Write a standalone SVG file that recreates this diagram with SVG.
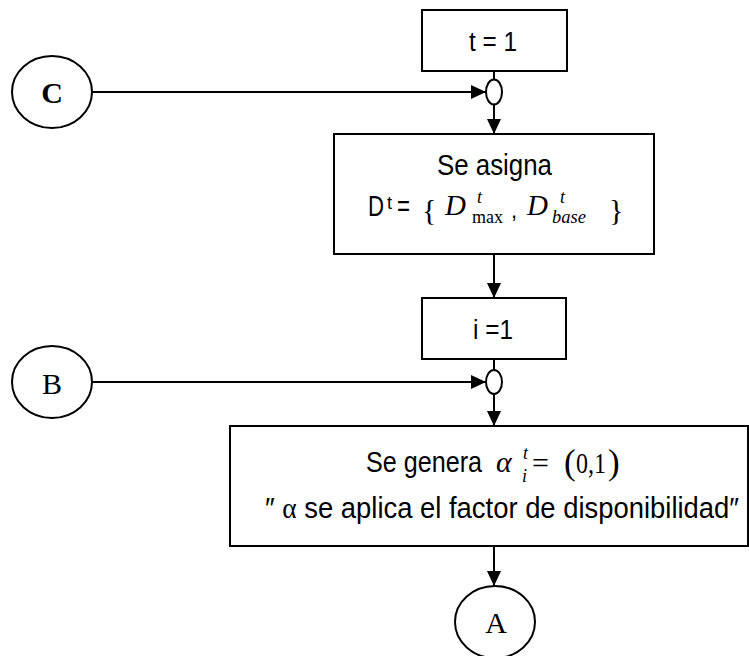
<svg xmlns="http://www.w3.org/2000/svg" width="749" height="656" viewBox="0 0 749 656">
<style>
.shape{fill:#fff;stroke:#000;stroke-width:2}
.edge{fill:none;stroke:#000;stroke-width:2}
.sans{font-family:"Liberation Sans",Arial,sans-serif;fill:#000}
.serif{font-family:"Liberation Serif","Times New Roman",serif;fill:#000}
.it{font-style:italic}
</style>
<defs>
<marker id="arr" markerUnits="userSpaceOnUse" markerWidth="16" markerHeight="14" refX="15" refY="7" orient="auto">
<path d="M0,0 L15,7 L0,14 z" fill="#000"/>
</marker>
</defs>
<g id="connectors">
<line class="edge" x1="92" y1="92" x2="486" y2="92" marker-end="url(#arr)"/>
<line class="edge" x1="494" y1="71" x2="494" y2="80"/>
<line class="edge" x1="494" y1="105" x2="494" y2="134" marker-end="url(#arr)"/>
<line class="edge" x1="494" y1="254" x2="494" y2="298" marker-end="url(#arr)"/>
<line class="edge" x1="494" y1="359" x2="494" y2="370"/>
<line class="edge" x1="93" y1="382" x2="486" y2="382" marker-end="url(#arr)"/>
<line class="edge" x1="494" y1="394" x2="494" y2="426" marker-end="url(#arr)"/>
<line class="edge" x1="494" y1="546" x2="494" y2="586" marker-end="url(#arr)"/>
</g>
<g id="nodeC">
<ellipse class="shape" cx="52" cy="92" rx="40" ry="36"/>
<text class="serif" x="52" y="103" font-size="30" font-weight="bold" text-anchor="middle">C</text>
</g>
<g id="nodeT1">
<rect class="shape" x="422" y="10" width="145" height="61"/>
<text class="sans" x="469" y="51" font-size="27" textLength="48" lengthAdjust="spacingAndGlyphs">t = 1</text>
</g>
<g id="junction1">
<ellipse class="shape" cx="494" cy="92" rx="8" ry="12.5"/>
</g>
<g id="nodeAssign">
<rect class="shape" x="334" y="134" width="320" height="120"/>
<text class="sans" x="437" y="175" font-size="29" textLength="115" lengthAdjust="spacingAndGlyphs">Se asigna</text>
<text class="sans" x="368" y="216" font-size="29" textLength="16" lengthAdjust="spacingAndGlyphs">D</text>
<text class="sans" x="387" y="209" font-size="18" textLength="5" lengthAdjust="spacingAndGlyphs">t</text>
<text class="sans" x="397" y="216" font-size="29" textLength="13" lengthAdjust="spacingAndGlyphs">=</text>
<text class="serif" x="422" y="220" font-size="30">{</text>
<text class="serif it" x="445" y="215" font-size="29">D</text>
<text class="serif it" x="477" y="203" font-size="18">t</text>
<text class="serif" x="472" y="223" font-size="18" textLength="31" lengthAdjust="spacingAndGlyphs">max</text>
<text class="sans" x="511" y="218" font-size="22">,</text>
<text class="serif it" x="527" y="215" font-size="29">D</text>
<text class="serif it" x="560" y="203" font-size="18">t</text>
<text class="serif it" x="552" y="223" font-size="18" textLength="34" lengthAdjust="spacingAndGlyphs">base</text>
<text class="serif" x="609" y="220" font-size="30">}</text>
</g>
<g id="nodeI1">
<rect class="shape" x="422" y="298" width="144" height="61"/>
<text class="sans" x="473" y="339" font-size="27" textLength="40" lengthAdjust="spacingAndGlyphs">i =1</text>
</g>
<g id="junction2">
<ellipse class="shape" cx="494" cy="382" rx="8" ry="12"/>
</g>
<g id="nodeB">
<ellipse class="shape" cx="52" cy="382" rx="40" ry="36"/>
<text class="serif" x="52" y="394" font-size="30" text-anchor="middle">B</text>
</g>
<g id="nodeGen">
<rect class="shape" x="230" y="426" width="518" height="120"/>
<text class="sans" x="366" y="472" font-size="29" textLength="116" lengthAdjust="spacingAndGlyphs">Se genera</text>
<text class="serif it" x="496" y="472" font-size="30">α</text>
<text class="serif it" x="523" y="459" font-size="18">t</text>
<text class="serif it" x="522" y="482" font-size="18">i</text>
<text class="serif" x="532" y="473" font-size="30">=</text>
<text class="serif" x="564" y="474" font-size="35">(</text>
<text class="serif" x="576" y="473" font-size="29" textLength="30" lengthAdjust="spacingAndGlyphs">0,1</text>
<text class="serif" x="608" y="474" font-size="35">)</text>
<text class="sans" x="265" y="518" font-size="29" textLength="474" lengthAdjust="spacingAndGlyphs">″ <tspan class="serif">α</tspan> se aplica el factor de disponibilidad″</text>
</g>
<g id="nodeA">
<ellipse class="shape" cx="495" cy="622" rx="40" ry="36"/>
<text class="serif" x="496" y="633" font-size="30" text-anchor="middle">A</text>
</g>
</svg>
